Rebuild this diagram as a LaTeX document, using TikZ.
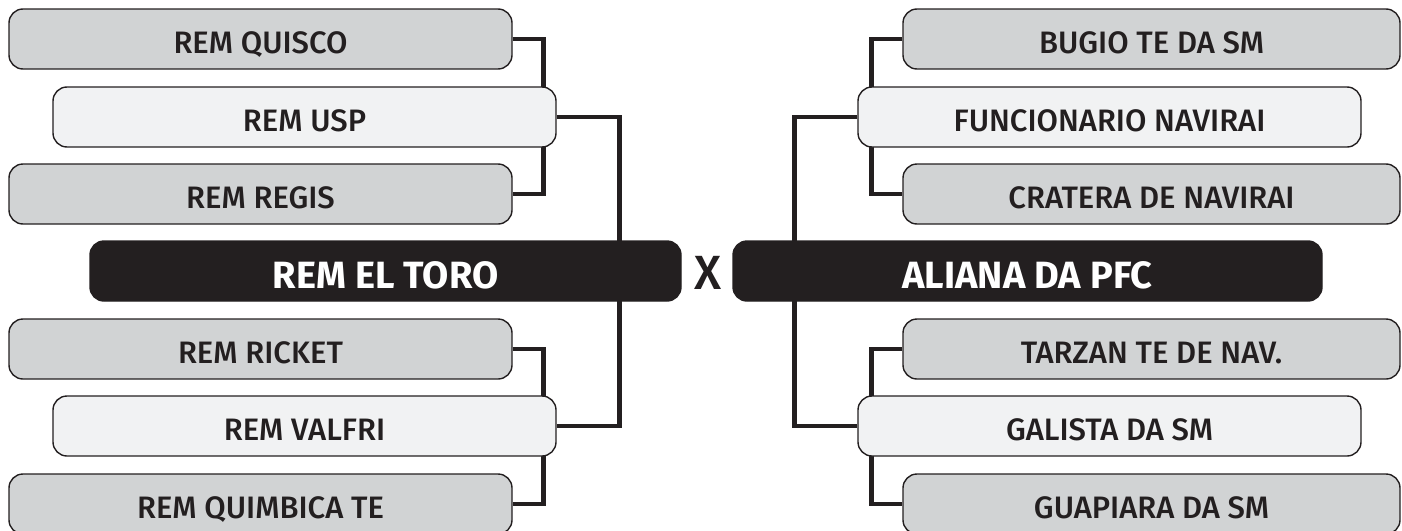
\documentclass[tikz,border=0pt]{standalone}
\usepackage{fontspec}
\setmainfont{Fira Sans}[UprightFont=* Medium, BoldFont=* Bold]
\usetikzlibrary{backgrounds}
\definecolor{ink}{HTML}{231F20}
\definecolor{gbox}{HTML}{D1D3D4}
\definecolor{lbox}{HTML}{F1F2F3}
\begin{document}
\begin{tikzpicture}[x=1pt,y=-1pt,
  team/.style={draw=ink, line width=1.4pt, rounded corners=14pt,
    minimum width=503pt, minimum height=60pt, inner sep=0pt, text=ink,
    font=\fontsize{31}{32}\selectfont, text height=28pt, text depth=0pt},
  grayteam/.style={team, fill=gbox},
  grayright/.style={team, fill=gbox, minimum width=497pt},
  lightteam/.style={team, fill=lbox},
  finalteam/.style={draw=ink, line width=1.4pt, fill=ink, rounded corners=14pt,
    minimum height=60pt, inner sep=0pt, text=white,
    font=\fontsize{38}{40}\selectfont\bfseries, text height=34pt, text depth=0pt},
  versus/.style={text=ink, font=\fontsize{48}{50}\selectfont, inner sep=0pt, anchor=base},
  link/.style={draw=ink, line width=4.5pt},
]
\useasboundingbox (0,0) rectangle (1402,530);
% left side
\node[grayteam]  (q)   at (260.5,39)  {REM QUISCO};
\node[lightteam] (usp) at (304.5,117) {REM USP};
\node[grayteam]  (reg) at (260.5,194) {REM REGIS};
\node[finalteam, minimum width=591pt] (toro) at (385.5,271) {REM EL TORO};
\node[grayteam]  (ric) at (260.5,349) {REM RICKET};
\node[lightteam] (val) at (304.5,426) {REM VALFRI};
\node[grayteam]  (qui) at (260.5,504) {REM QUIMBICA TE};
% right side
\node[grayright] (bug) at (1151.5,39)  {BUGIO TE DA SM};
\node[lightteam] (fun) at (1109.5,117) {FUNCIONARIO NAVIRAI};
\node[grayright] (cra) at (1151.5,194) {CRATERA DE NAVIRAI};
\node[finalteam, minimum width=589pt] (ali) at (1027.5,271) {ALIANA DA PFC};
\node[grayright] (tar) at (1151.5,349) {TARZAN TE DE NAV.};
\node[lightteam] (gal) at (1109.5,426) {GALISTA DA SM};
\node[grayright] (gua) at (1151.5,504) {GUAPIARA DA SM};
% versus
\node[versus] (vs) at (707.5,289) {X};
% connectors
\begin{scope}[on background layer]
\draw[link] (q.east) -- ++(31,0) |- (reg.east);
\draw[link] (ric.east) -- ++(31,0) |- (qui.east);
\draw[link] (usp.east) -- ++(63,0) |- (val.east);
\draw[link] (bug.west) -- ++(-31,0) |- (cra.west);
\draw[link] (tar.west) -- ++(-31,0) |- (gua.west);
\draw[link] (fun.west) -- ++(-63,0) |- (gal.west);
\end{scope}
\end{tikzpicture}
\end{document}
